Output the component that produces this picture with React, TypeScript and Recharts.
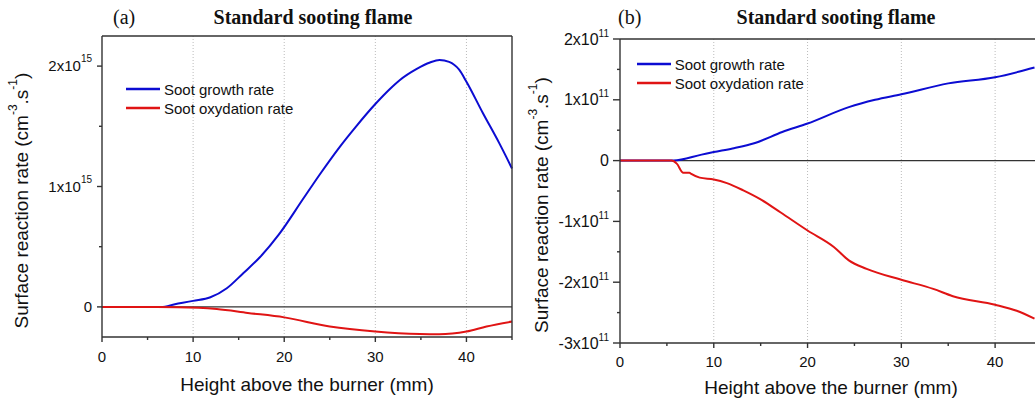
import { LineChart, Line, XAxis, YAxis, ReferenceLine, Legend } from "recharts";

const SANS = '"Liberation Sans", Arial, sans-serif';
const SERIF = '"Liberation Serif", "Times New Roman", serif';
const BLUE = "#0c0cd2";
const RED = "#e01414";
const AXIS = "#333333";

// panel (a): values in units of 1e15 cm^-3.s^-1
const heightGrowthA = [0, 6.5, 8, 10, 11.9, 13.7, 15.5, 17.3, 19.4, 22.1, 23.9, 26.1, 27.9, 30, 31.6, 32.7, 34.5, 36, 37.05, 38.1, 39.2, 40, 41.8, 43.6, 45];
const growthA = [0, 0, 0.022, 0.05, 0.08, 0.155, 0.28, 0.41, 0.6, 0.9, 1.1, 1.33, 1.5, 1.685, 1.81, 1.885, 1.975, 2.03, 2.05, 2.035, 1.97, 1.87, 1.61, 1.36, 1.15];
const heightOxA = [0, 6, 10.6, 12.6, 16, 20, 25, 30, 34.9, 37, 40, 42.2, 45];
const oxA = [0, 0, -0.008, -0.018, -0.05, -0.087, -0.163, -0.205, -0.226, -0.228, -0.205, -0.163, -0.122];

// panel (b): values in units of 1e11 cm^-3.s^-1
const heightGrowthB = [0, 5.7, 8.7, 10, 12, 14.4, 17.3, 20, 24.4, 27.2, 30, 35, 40, 42.5, 44.2];
const growthB = [0, 0, 0.098, 0.14, 0.2, 0.29, 0.47, 0.61, 0.88, 1.0, 1.09, 1.27, 1.37, 1.46, 1.53];
const heightOxB = [0, 5.5, 6.05, 6.75, 7.4, 7.6, 8.5, 10, 11.4, 13.15, 14.9, 17.1, 20, 22.8, 24.4, 26.3, 30, 33.4, 35.5, 40, 42.3, 44.2];
const oxB = [0, 0, -0.05, -0.2, -0.2, -0.22, -0.28, -0.31, -0.37, -0.49, -0.63, -0.85, -1.15, -1.42, -1.64, -1.78, -1.96, -2.11, -2.23, -2.37, -2.47, -2.6];

const xTicks = [0, 5, 10, 15, 20, 25, 30, 35, 40, 45];
const gridX = [10, 20, 30, 40];
const yTicksA = [0, 0.5, 1, 1.5, 2];
const yTicksB = [-3, -2.5, -2, -1.5, -1, -0.5, 0, 0.5, 1, 1.5, 2];

const SERIES = ["Soot growth rate", "Soot oxydation rate"];
const TITLE = "Standard sooting flame";
const X_TITLE = "Height above the burner (mm)";

const rows = (xs: number[], ys: number[]) => xs.map((x, i) => ({ x, y: ys[i] }));

const isMajorX = (v: number) => v % 10 === 0;

const makeXTick = (labelDy: number) => (props: any) => {
  const { x, y, payload } = props;
  const v = payload.value;
  const major = isMajorX(v);
  return (
    <g>
      <line x1={x} x2={x} y1={y} y2={y + (major ? 5 : 3)} stroke={AXIS} strokeWidth={1.4} />
      {major && (
        <text x={x} y={y + labelDy} textAnchor="middle" fontSize={15} fontFamily={SANS} fill="#111">
          {v}
        </text>
      )}
    </g>
  );
};

const makeYTick = (exp: string, gap: number, fontSize: number, supDy: number, majorLen: number) => (props: any) => {
  const { x, y, payload } = props;
  const v = payload.value;
  const major = Number.isInteger(v);
  return (
    <g>
      <line x1={x} x2={x - (major ? majorLen : 3)} y1={y} y2={y} stroke={AXIS} strokeWidth={1.4} />
      {major && (
        <text x={x - gap} y={y + fontSize * 0.35} textAnchor="end" fontSize={fontSize} fontFamily={SANS} fill="#111">
          {v === 0 ? (
            "0"
          ) : (
            <>
              <tspan>{`${v}x10`}</tspan>
              <tspan dy={supDy} fontSize={10}>{exp}</tspan>
            </>
          )}
        </text>
      )}
    </g>
  );
};

const rightTick = (props: any) => {
  const { x, y, payload } = props;
  const major = Number.isInteger(payload.value);
  return <line x1={x} x2={x - (major ? 5 : 3)} y1={y} y2={y} stroke={AXIS} strokeWidth={1.4} />;
};

const topTick = (props: any) => {
  const { x, y, payload } = props;
  return <line x1={x} x2={x} y1={y} y2={y + (isMajorX(payload.value) ? 5 : 3)} stroke={AXIS} strokeWidth={1.4} />;
};

const xTitle = (dy: number) => (props: any) => {
  const vb = props.viewBox;
  return (
    <text x={vb.x + vb.width / 2} y={vb.y + dy} textAnchor="middle" fontSize={19} fontFamily={SANS} fill="#111">
      {X_TITLE}
    </text>
  );
};

const yTitle = (cx: number, dyc: number) => (props: any) => {
  const vb = props.viewBox;
  const x = vb.x + cx;
  const y = vb.y + vb.height / 2 + dyc;
  return (
    <text
      x={x}
      y={y}
      transform={`rotate(-90 ${x} ${y})`}
      textAnchor="middle"
      dominantBaseline="central"
      fontSize={19}
      fontFamily={SANS}
      fill="#111"
    >
      <tspan>Surface reaction rate (cm</tspan>
      <tspan dy={-8} fontSize={12}>-3</tspan>
      <tspan dy={8}>.s</tspan>
      <tspan dy={-8} fontSize={12}>-1</tspan>
      <tspan dy={8}>)</tspan>
    </text>
  );
};

const legendContent = (props: any) => (
  <div style={{ fontFamily: SANS, fontSize: 15, color: "#111" }}>
    {(props.payload || []).map((p: any) => (
      <div key={p.value} style={{ display: "flex", alignItems: "center", height: 19, whiteSpace: "nowrap" }}>
        <svg width={34} height={4}>
          <line x1={0} x2={34} y1={2} y2={2} stroke={p.color} strokeWidth={2.4} />
        </svg>
        <span style={{ marginLeft: 4 }}>{p.value}</span>
      </div>
    ))}
  </div>
);

export default function App() {
  return (
    <div style={{ position: "absolute", left: 0, top: 0, width: 1035, height: 403, overflow: "hidden", background: "#fff" }}>
      {/* panel (a) */}
      <div style={{ position: "absolute", left: 0, top: 0 }}>
        <LineChart width={520} height={403} margin={{ top: 35, right: 7, bottom: 16, left: 0 }}>
          <XAxis dataKey="x" type="number" domain={[0, 45]} ticks={xTicks} interval={0} height={50}
            axisLine={{ stroke: AXIS, strokeWidth: 1.4 }} tickLine={false} tickSize={0} tickMargin={0}
            tick={makeXTick(25)} label={{ content: xTitle(54) }} />
          <XAxis xAxisId="top" dataKey="x" type="number" orientation="top" domain={[0, 45]} height={1}
            axisLine={{ stroke: AXIS, strokeWidth: 1.4 }} tickLine={false} tick={false} />
          <YAxis type="number" domain={[-0.25, 2.25]} ticks={yTicksA} interval={0} width={102}
            axisLine={{ stroke: AXIS, strokeWidth: 1.4 }} tickLine={false} tickSize={0} tickMargin={0}
            tick={makeYTick("15", 10, 15, -9, 5)} label={{ content: yTitle(21, 14) }} />
          <YAxis yAxisId="right" type="number" orientation="right" domain={[-0.25, 2.25]} ticks={yTicksA} interval={0}
            width={1} axisLine={{ stroke: AXIS, strokeWidth: 1.4 }} tickLine={false} tickSize={0} tickMargin={0}
            tick={rightTick} />
          {gridX.map((g) => (
            <ReferenceLine key={g} x={g} stroke="#bbbbbb" strokeDasharray="1 2" />
          ))}
          <ReferenceLine y={0} stroke={AXIS} strokeWidth={1.4} />
          <Legend layout="horizontal" verticalAlign="middle" align="center" content={legendContent}
            wrapperStyle={{ left: 126, top: 79.5, width: "auto", height: "auto" }} />
          <Line data={rows(heightGrowthA, growthA)} dataKey="y" name={SERIES[0]} type="monotone" stroke={BLUE}
            strokeWidth={2} dot={false} isAnimationActive={false} />
          <Line data={rows(heightOxA, oxA)} dataKey="y" name={SERIES[1]} type="monotone" stroke={RED}
            strokeWidth={2} dot={false} isAnimationActive={false} />
        </LineChart>
      </div>

      {/* panel (b) */}
      <div style={{ position: "absolute", left: 515, top: 0 }}>
        <LineChart width={535} height={403} margin={{ top: 38, right: 7, bottom: 10, left: 0 }}>
          <XAxis dataKey="x" type="number" domain={[0, 45]} ticks={xTicks} interval={0} height={50}
            axisLine={{ stroke: AXIS, strokeWidth: 1.4 }} tickLine={false} tickSize={0} tickMargin={0}
            tick={makeXTick(24)} label={{ content: xTitle(51) }} />
          <XAxis xAxisId="top" dataKey="x" type="number" orientation="top" domain={[0, 45]} ticks={xTicks} interval={0}
            height={1} axisLine={{ stroke: AXIS, strokeWidth: 1.4 }} tickLine={false} tickSize={0} tickMargin={0}
            tick={topTick} />
          <YAxis type="number" domain={[-3, 2]} ticks={yTicksB} interval={0} width={105}
            axisLine={{ stroke: AXIS, strokeWidth: 1.4 }} tickLine={false} tickSize={0} tickMargin={0}
            tick={makeYTick("11", 11, 16, -8, 7)} label={{ content: yTitle(26, 14) }} />
          <YAxis yAxisId="right" type="number" orientation="right" domain={[-3, 2]} ticks={yTicksB} interval={0}
            width={1} axisLine={{ stroke: AXIS, strokeWidth: 1.4 }} tickLine={false} tickSize={0} tickMargin={0}
            tick={rightTick} />
          {gridX.map((g) => (
            <ReferenceLine key={g} x={g} stroke="#bbbbbb" strokeDasharray="1 2" />
          ))}
          <ReferenceLine y={0} stroke={AXIS} strokeWidth={1.4} />
          <Legend layout="horizontal" verticalAlign="middle" align="center" content={legendContent}
            wrapperStyle={{ left: 121.7, top: 54.5, width: "auto", height: "auto" }} />
          <Line data={rows(heightGrowthB, growthB)} dataKey="y" name={SERIES[0]} type="monotone" stroke={BLUE}
            strokeWidth={2} dot={false} isAnimationActive={false} />
          <Line data={rows(heightOxB, oxB)} dataKey="y" name={SERIES[1]} type="monotone" stroke={RED}
            strokeWidth={2} dot={false} isAnimationActive={false} />
        </LineChart>
      </div>

      {/* panel titles */}
      <svg width={1035} height={403} style={{ position: "absolute", left: 0, top: 0, pointerEvents: "none" }}>
        <text x={113} y={24} fontSize={20} fontFamily={SERIF} fill="#111">(a)</text>
        <text x={313} y={23.5} fontSize={20} fontWeight="bold" fontFamily={SERIF} textAnchor="middle" fill="#111">{TITLE}</text>
        <text x={618} y={24} fontSize={20} fontFamily={SERIF} fill="#111">(b)</text>
        <text x={836} y={23.5} fontSize={20} fontWeight="bold" fontFamily={SERIF} textAnchor="middle" fill="#111">{TITLE}</text>
      </svg>
    </div>
  );
}
